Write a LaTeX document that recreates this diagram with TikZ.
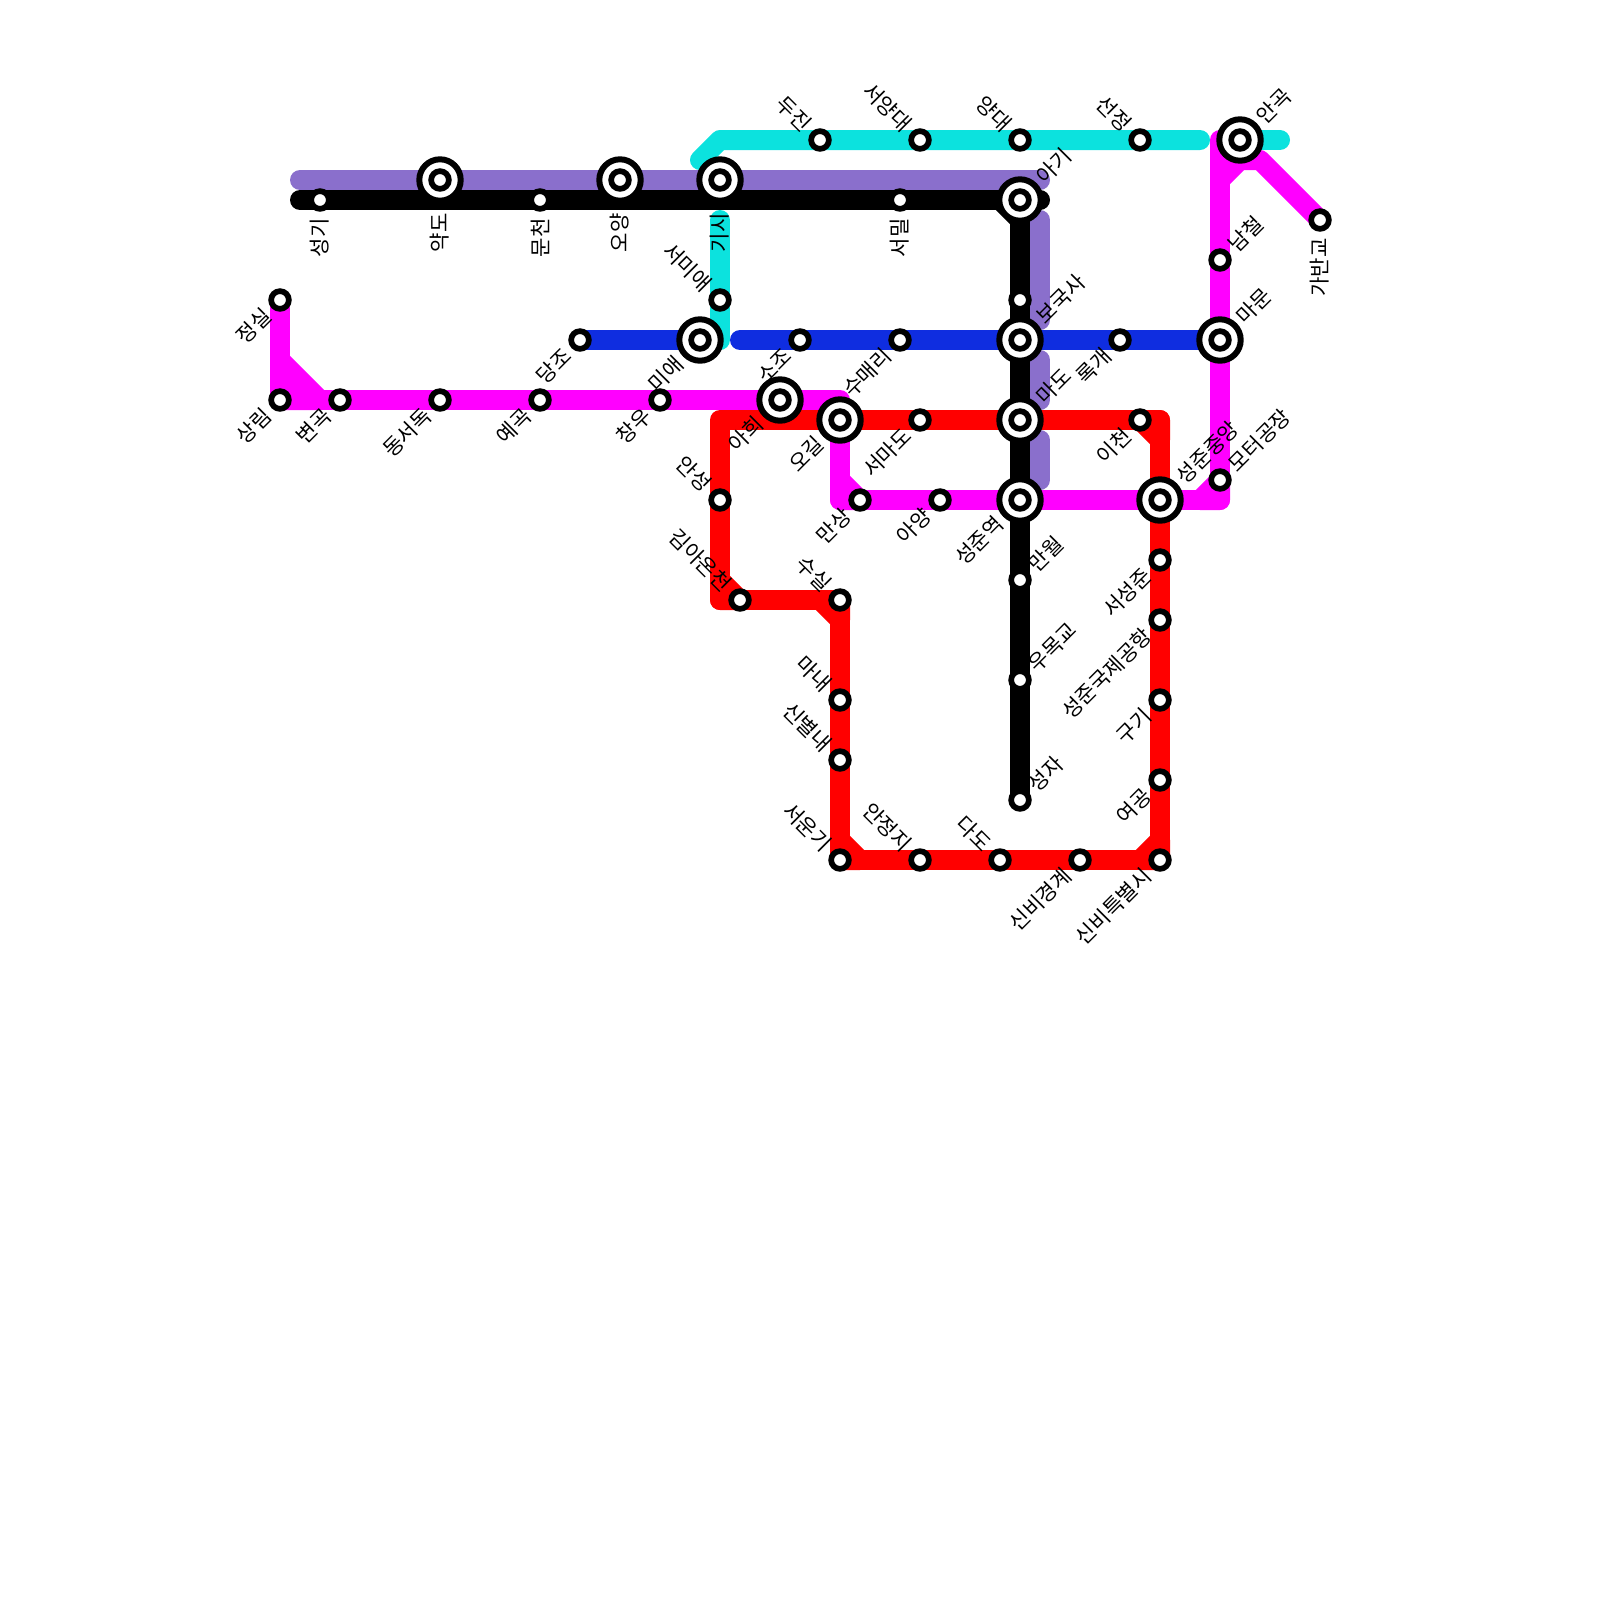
\documentclass[tikz,border=0pt]{standalone}
\usepackage{fontspec}
\setmainfont{Noto Sans CJK KR}
\usetikzlibrary{backgrounds}
\definecolor{linepurple}{HTML}{8A6FCC}
\definecolor{lineteal}{HTML}{0CE2DE}
\definecolor{lineblue}{HTML}{0F2DE0}
\definecolor{linemagenta}{HTML}{FF00FF}
\definecolor{linered}{HTML}{FF0000}
\tikzset{
  metroline/.style={line width=.5cm, line cap=round, line join=round},
  metrostub/.style={metroline, fill=#1, draw=#1},
  smallstn/.style={circle, draw=black, fill=white, line width=.1425cm,
    minimum size=.4425cm, inner sep=0pt},
  bigstn/.style={circle, draw=black, fill=white, line width=.15cm,
    minimum size=1.035cm, inner sep=0pt},
  stnlabel/.style={font=\fontsize{15pt}{18pt}\selectfont, text=black, inner sep=0pt},
  labelll/.style={stnlabel, shift={(-#1,#1)}, rotate=45, anchor=east},
  labelur/.style={stnlabel, shift={(#1,-#1)}, rotate=45, anchor=west},
  labelul/.style={stnlabel, shift={(-#1,-#1)}, rotate=-45, anchor=east},
  labeldown/.style={stnlabel, shift={(0,#1)}, rotate=90, anchor=east}
}
\begin{document}
\begin{tikzpicture}[x=.025cm,y=-.025cm]
  \useasboundingbox (0,0) rectangle (1600,1600);
  % small stations
  \foreach \stn/\x/\y in {jeongsil/280/300, sangnim/280/400, byeongok/340/400,
    dongseo/440/400, yegok/540/400, changu/660/400, dangjo/580/340,
    seonggi/320/200, muncheon/540/200, seomil/900/200, seomiae/720/300,
    dujin/820/140, seoyang/920/140, yangdae/1020/140, seonjeong/1140/140,
    midstop/1020/300, sojo/800/340, sumaeri/900/340, rokgae/1120/340,
    seomado/920/420, icheon/1140/420, anseong/720/500, gimaon/740/600,
    susil/840/600, mansang/860/500, ayang/940/500, namcheol/1220/260,
    motor/1220/480, gaban/1320/220, manwol/1020/580, umokgyo/1020/680,
    seongja/1020/800, seoseong/1160/560, gonghang/1160/620, gugi/1160/700,
    yeogong/1160/780, sinbi/1160/860, gyeonggye/1080/860, dado/1000/860,
    anjeong/920/860, seoun/840/860, sinbyeol/840/760, manae/840/700} {
    \node[smallstn] (\stn) at (\x,\y) {};
  }
  % interchanges
  \foreach \stn/\x/\y in {yakdo/440/180, oyang/620/180, gisi/720/180, miae/700/340,
    ahui/780/400, ogil/840/420, agi/1020/200, boguk/1020/340, mado/1020/420,
    seongjun/1020/500, jungang/1160/500, mamun/1220/340, angok/1240/140} {
    \node[bigstn] (\stn) at (\x,\y) {};
    \node[smallstn] (\stn core) at (\x,\y) {};
  }
  % free ends and bends
  \coordinate (purplewest) at (300,180);
  \coordinate (purpleeast) at (1040,180);
  \coordinate (purplea) at (1040,220);
  \coordinate (purpleb) at (1040,320);
  \coordinate (purplec) at (1040,360);
  \coordinate (purpled) at (1040,400);
  \coordinate (purplee) at (1040,440);
  \coordinate (purplef) at (1040,480);
  \coordinate (blackwest) at (300,200);
  \coordinate (blackeast) at (1040,200);
  \coordinate (blackbend) at (1000,200);
  \coordinate (blackdrop) at (1020,220);
  \coordinate (tealhook) at (700,160);
  \coordinate (tealknee) at (720,140);
  \coordinate (tealeast) at (1200,140);
  \coordinate (tealstub) at (1280,140);
  \coordinate (tealtop) at (720,220);
  \coordinate (tealfoot) at (720,340);
  \coordinate (bluestart) at (740,340);
  \coordinate (magtop) at (1220,140);
  \coordinate (magcorner) at (1220,500);
  \coordinate (magwest) at (840,500);
  \coordinate (magnorth) at (840,400);
  \coordinate (magfork) at (1220,180);
  \coordinate (magelbow) at (1240,160);
  \coordinate (magrun) at (1260,160);
  \coordinate (magslant) at (280,360);
  \coordinate (magflat) at (320,400);
  \coordinate (magin) at (840,480);
  \coordinate (magout) at (1200,500);
  \coordinate (rednw) at (720,420);
  \coordinate (redne) at (1160,420);
  \coordinate (redsw) at (720,600);
  \coordinate (redcut) at (1160,440);
  \coordinate (redup) at (840,620);
  \coordinate (redbend) at (820,600);
  \coordinate (redsouth) at (840,840);
  \coordinate (redrun) at (860,860);
  \coordinate (redeast) at (1160,840);
  \coordinate (redlow) at (1140,860);
  \coordinate (redknee) at (720,580);
  \begin{scope}[on background layer]
    % purple
    \draw[metroline, linepurple] (purplewest) -- (purpleeast);
    \draw[metroline, linepurple] (purplea) -- (purpleb);
    \draw[metroline, linepurple] (purplec) -- (purpled);
    \draw[metroline, linepurple] (purplee) -- (purplef);
    % teal
    \draw[metroline, lineteal] (tealhook) -- (tealknee) -- (tealeast);
    \draw[metroline, lineteal] (angok.center) -- (tealstub);
    \draw[metroline, lineteal] (tealtop) -- (tealfoot);
    % blue
    \draw[metroline, lineblue] (dangjo.center) -- (miae.center);
    \draw[metroline, lineblue] (bluestart) -- (mamun.center);
    % magenta
    \draw[metroline, linemagenta] (jeongsil.center) -- (sangnim.center) -- (magnorth)
      -- (magwest) -- (magcorner) -- (magtop);
    \draw[metrostub=linemagenta] (magslant) -- (magflat) -- (sangnim.center) -- cycle;
    \draw[metrostub=linemagenta] (magin) -- (mansang.center) -- (magwest) -- cycle;
    \draw[metrostub=linemagenta] (magout) -- (motor.center) -- (magcorner) -- cycle;
    \draw[metroline, linemagenta] (magfork) -- (magelbow) -- (magrun) -- (gaban.center);
    % red
    \draw[metroline, linered] (rednw) -- (redne) -- (sinbi.center) -- (seoun.center)
      -- (susil.center) -- (redsw) -- cycle;
    \draw[metrostub=linered] (icheon.center) -- (redcut) -- (redne) -- cycle;
    \draw[metrostub=linered] (redknee) -- (gimaon.center) -- (redsw) -- cycle;
    \draw[metrostub=linered] (redbend) -- (redup) -- (susil.center) -- cycle;
    \draw[metrostub=linered] (redsouth) -- (redrun) -- (seoun.center) -- cycle;
    \draw[metrostub=linered] (redlow) -- (redeast) -- (sinbi.center) -- cycle;
    % black
    \draw[metroline, black] (blackwest) -- (blackeast);
    \draw[metroline, black] (blackbend) -- (blackdrop) -- (agi.center) -- cycle;
    \draw[metroline, black] (blackdrop) -- (seongja.center);
  \end{scope}
  % labels
  \foreach \stn/\txt in {jeongsil/정실, sangnim/상림, byeongok/변곡, dongseo/동서독,
    yegok/예곡, changu/창우, dangjo/당조, sojo/소조, sumaeri/수매리, rokgae/록개,
    seomado/서마도, icheon/이천, mansang/만상, ayang/아양, seoseong/서성준,
    gonghang/성준국제공항, gugi/구기, yeogong/여공, sinbi/신비특별시, gyeonggye/신비경계} {
    \node[labelll=12] (\stn lbl) at (\stn) {\txt};
  }
  \foreach \stn/\txt in {miae/미애, ahui/아희, ogil/오길, seongjun/성준역} {
    \node[labelll=20] (\stn lbl) at (\stn) {\txt};
  }
  \foreach \stn/\txt in {seomiae/서미애, dujin/두진, seoyang/서양대, yangdae/양대,
    seonjeong/선정, anseong/안성, gimaon/김아온천, susil/수실, manae/마내,
    sinbyeol/신별내, seoun/서운기, anjeong/안정지, dado/다도} {
    \node[labelul=12] (\stn lbl) at (\stn) {\txt};
  }
  \foreach \stn/\txt in {namcheol/남철, motor/모터공장, manwol/만월, umokgyo/우목교, seongja/성자} {
    \node[labelur=12] (\stn lbl) at (\stn) {\txt};
  }
  \foreach \stn/\txt in {agi/아기, boguk/보국사, mado/마도, jungang/성준중앙, mamun/마문, angok/안곡} {
    \node[labelur=20] (\stn lbl) at (\stn) {\txt};
  }
  \foreach \stn/\txt in {seonggi/성기, muncheon/문천, seomil/서밀, gaban/가반교} {
    \node[labeldown=18] (\stn lbl) at (\stn) {\txt};
  }
  \foreach \stn/\txt in {yakdo/약도, oyang/오양, gisi/기시} {
    \node[labeldown=33] (\stn lbl) at (\stn) {\txt};
  }
\end{tikzpicture}
\end{document}
